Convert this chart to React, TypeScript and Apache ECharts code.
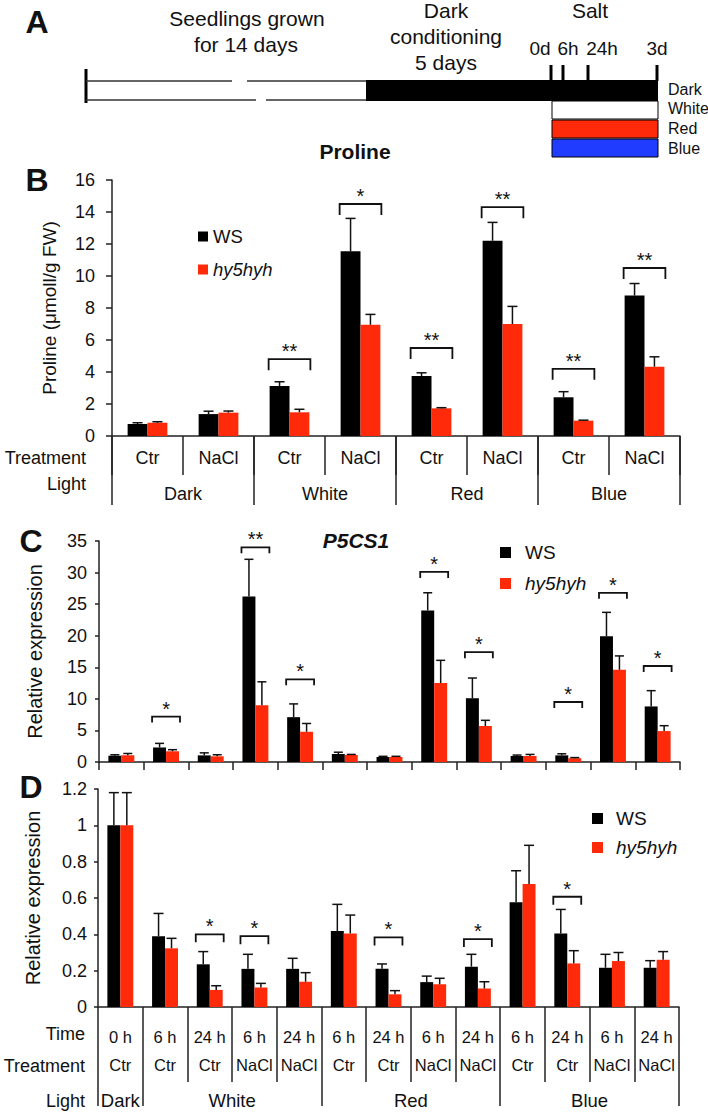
import React, { useEffect, useRef } from 'react';
import * as echarts from 'echarts';

const FONT = "'Liberation Sans', Arial, Helvetica, sans-serif";
const INK = '#111111';
const AXIS = '#222222';
const WS_COLOR = '#000000';
const HY_COLOR = '#ff2a0a';
const BLUE = '#1f3cff';

// ---------- Panel B : Proline ----------
const bTreatments = ['Ctr', 'NaCl', 'Ctr', 'NaCl', 'Ctr', 'NaCl', 'Ctr', 'NaCl'];
const bLights = ['Dark', 'White', 'Red', 'Blue'];
const bWS = [0.75, 1.37, 3.12, 11.55, 3.75, 12.2, 2.42, 8.78];
const bWSErr = [0.08, 0.18, 0.27, 2.05, 0.2, 1.15, 0.35, 0.75];
const bHy = [0.83, 1.46, 1.48, 6.95, 1.73, 7.0, 0.96, 4.33];
const bHyErr = [0.06, 0.1, 0.19, 0.65, 0.04, 1.1, 0.03, 0.62];
// [category index, bracket height, number of stars]
const bSig = [[2, 4.8, 2], [3, 14.5, 1], [4, 5.5, 2], [5, 14.3, 2], [6, 4.2, 2], [7, 10.5, 2]];

// ---------- Panels C & D : 13 conditions ----------
const timePoints = ['0 h', '6 h', '24 h', '6 h', '24 h', '6 h', '24 h', '6 h', '24 h', '6 h', '24 h', '6 h', '24 h'];
const treatments = ['Ctr', 'Ctr', 'Ctr', 'NaCl', 'NaCl', 'Ctr', 'Ctr', 'NaCl', 'NaCl', 'Ctr', 'Ctr', 'NaCl', 'NaCl'];
const lightGroups = ['Dark', 'White', 'Red', 'Blue'];
const lightGroupSizes = [1, 4, 4, 4];

// Panel C : P5CS1
const cWS = [1.0, 2.3, 1.05, 26.2, 7.1, 1.25, 0.8, 24.0, 10.1, 0.95, 1.05, 19.9, 8.8];
const cWSErr = [0.15, 0.65, 0.4, 5.9, 2.1, 0.3, 0.1, 2.8, 3.2, 0.15, 0.25, 3.8, 2.5];
const cHy = [1.05, 1.7, 0.9, 9.0, 4.8, 1.1, 0.8, 12.5, 5.7, 0.95, 0.6, 14.6, 4.9];
const cHyErr = [0.3, 0.25, 0.25, 3.7, 1.3, 0.1, 0.1, 3.6, 0.9, 0.25, 0.1, 2.2, 0.85];
const cSig = [[1, 7.2, 1], [3, 34.0, 2], [4, 13.1, 1], [7, 30.1, 1], [8, 17.4, 1], [10, 9.5, 1], [11, 26.8, 1], [12, 15.2, 1]];

// Panel D
const dWS = [1.0, 0.39, 0.235, 0.21, 0.21, 0.418, 0.21, 0.137, 0.222, 0.576, 0.405, 0.216, 0.216];
const dWSErr = [0.18, 0.125, 0.07, 0.08, 0.058, 0.147, 0.027, 0.033, 0.068, 0.174, 0.132, 0.074, 0.039];
const dHy = [1.0, 0.323, 0.094, 0.108, 0.139, 0.405, 0.07, 0.125, 0.102, 0.677, 0.24, 0.253, 0.26];
const dHyErr = [0.18, 0.055, 0.023, 0.022, 0.05, 0.101, 0.02, 0.033, 0.037, 0.213, 0.07, 0.047, 0.045];
const dSig = [[2, 0.4, 1], [3, 0.39, 1], [6, 0.383, 1], [8, 0.374, 1], [10, 0.607, 1]];

// light-group boundaries and centres on a 0..13 scale
const lightBounds: number[] = lightGroupSizes.reduce((acc: number[], s) => acc.concat(acc[acc.length - 1] + s), [0]);
const lightMids: number[] = lightGroupSizes.map((s, i) => lightBounds[i] + s / 2);

const B_GAP = 0.44;
const CD_GAP = 0.42;

function bars(xAxisIndex: number, yAxisIndex: number, ws: number[], hy: number[], gap: number) {
  const common = {
    type: 'bar', xAxisIndex, yAxisIndex, barGap: '0%', barCategoryGap: `${gap * 100}%`, z: 2,
    emphasis: { disabled: true },
  };
  return [
    { ...common, name: 'WS', data: ws, itemStyle: { color: WS_COLOR } },
    { ...common, name: 'hy5hyh', data: hy, itemStyle: { color: HY_COLOR } },
  ];
}

function errorBars(xAxisIndex: number, yAxisIndex: number, vals: number[], errs: number[], side: number, gap: number, cap: number) {
  return {
    type: 'custom', name: side < 0 ? 'WS error' : 'hy5hyh error', xAxisIndex, yAxisIndex, z: 5,
    data: vals.map((v, i) => [i, v, errs[i]]),
    encode: { x: 0, y: 1 },
    renderItem: (params: any, api: any) => {
      const i = api.value(0), v = api.value(1), e = api.value(2);
      const p0 = api.coord([i, v]);
      const p1 = api.coord([i, v + e]);
      const band = api.size([1, 0])[0];
      const bw = (band * (1 - gap)) / 2;
      const x = p0[0] + (side * bw) / 2;
      const st = { stroke: INK, lineWidth: 1.5 };
      return {
        type: 'group',
        children: [
          { type: 'line', shape: { x1: x, y1: p0[1], x2: x, y2: p1[1] }, style: st },
          { type: 'line', shape: { x1: x - cap / 2, y1: p1[1], x2: x + cap / 2, y2: p1[1] }, style: st },
        ],
      };
    },
  };
}

function brackets(xAxisIndex: number, yAxisIndex: number, sig: number[][], gap: number, leg: number) {
  return {
    type: 'custom', name: 'significance', xAxisIndex, yAxisIndex, z: 6,
    data: sig,
    encode: { x: 0, y: 1 },
    renderItem: (params: any, api: any) => {
      const i = api.value(0), h = api.value(1), n = api.value(2);
      const p = api.coord([i, h]);
      const band = api.size([1, 0])[0];
      const half = (band * (1 - gap)) / 2 + 1;
      return {
        type: 'group',
        children: [
          {
            type: 'polyline',
            shape: { points: [[p[0] - half, p[1] + leg], [p[0] - half, p[1]], [p[0] + half, p[1]], [p[0] + half, p[1] + leg]] },
            style: { stroke: INK, lineWidth: 1.8, fill: 'none' },
          },
          {
            type: 'text',
            style: {
              text: '*'.repeat(n), x: p[0], y: p[1] - 8,
              textAlign: 'center', textVerticalAlign: 'middle', align: 'center', verticalAlign: 'middle',
              fontSize: 20, fontFamily: FONT, fill: INK,
            },
          },
        ],
      };
    },
  };
}

function legendAt(left: number, top: number, gap: number, pad: number, size: number, font: number) {
  return {
    data: ['WS', 'hy5hyh'], left, top, orient: 'vertical', icon: 'rect',
    itemWidth: size, itemHeight: size, itemGap: gap, selectedMode: false,
    formatter: (n: string) => (n === 'hy5hyh' ? '{i|hy5hyh}' : '{n|WS}'),
    textStyle: {
      color: INK, fontSize: font, fontFamily: FONT, padding: [0, 0, 0, pad],
      rich: {
        i: { fontStyle: 'italic', fontSize: font, fontFamily: FONT, color: INK },
        n: { fontSize: font, fontFamily: FONT, color: INK },
      },
    },
  };
}

const axisLine = { show: true, lineStyle: { color: AXIS, width: 1.5 } };
const tickStyle = { color: AXIS, width: 1.5 };

function txt(text: string, x: number, y: number, size: number, opts: any = {}) {
  return {
    type: 'text', silent: true,
    style: {
      text, x, y, fontSize: size, fontFamily: FONT, fill: INK,
      textAlign: opts.align || 'center', align: opts.align || 'center',
      textVerticalAlign: 'middle', verticalAlign: 'middle',
      fontWeight: opts.weight || 'normal', fontStyle: opts.style || 'normal',
    },
  };
}

function schematic() {
  const thin = { stroke: '#333', lineWidth: 1.4 };
  const els: any[] = [
    { type: 'line', shape: { x1: 86, y1: 69, x2: 86, y2: 103 }, style: { stroke: '#000', lineWidth: 3 } },
    { type: 'line', shape: { x1: 86, y1: 81, x2: 232, y2: 81 }, style: thin },
    { type: 'line', shape: { x1: 247, y1: 81, x2: 367, y2: 81 }, style: thin },
    { type: 'line', shape: { x1: 86, y1: 100, x2: 256, y2: 100 }, style: thin },
    { type: 'line', shape: { x1: 266, y1: 100, x2: 367, y2: 100 }, style: thin },
    { type: 'rect', shape: { x: 366, y: 80, width: 292, height: 21 }, style: { fill: '#000' } },
    { type: 'rect', shape: { x: 552, y: 101, width: 106, height: 18 }, style: { fill: '#fff', stroke: '#000', lineWidth: 1 } },
    { type: 'rect', shape: { x: 552, y: 120, width: 106, height: 18 }, style: { fill: HY_COLOR, stroke: '#000', lineWidth: 1 } },
    { type: 'rect', shape: { x: 552, y: 139, width: 106, height: 18 }, style: { fill: BLUE, stroke: '#000', lineWidth: 1 } },
  ];
  [551, 563, 588, 657].forEach((x) => {
    els.push({ type: 'rect', shape: { x: x - 1.5, y: 65, width: 3, height: 16 }, style: { fill: '#000' } });
  });
  els.push(
    txt('Seedlings grown', 247, 18, 21),
    txt('for 14 days', 246, 44, 21),
    txt('Dark', 446, 10, 21),
    txt('conditioning', 446, 36, 21),
    txt('5 days', 446, 62, 21),
    txt('Salt', 590, 10, 21),
    txt('0d', 540, 48, 19),
    txt('6h', 568, 48, 19),
    txt('24h', 602, 48, 19),
    txt('3d', 657, 48, 19),
    txt('Dark', 668, 89, 16, { align: 'left' }),
    txt('White', 668, 108, 16, { align: 'left' }),
    txt('Red', 668, 128, 16, { align: 'left' }),
    txt('Blue', 668, 148, 16, { align: 'left' }),
  );
  return els;
}

function buildOption() {
  const graphics = [
    ...schematic(),
    txt('A', 37, 22, 32, { weight: 'bold' }),
    txt('B', 37, 180, 32, { weight: 'bold' }),
    txt('C', 31, 541, 32, { weight: 'bold' }),
    txt('D', 31, 787, 32, { weight: 'bold' }),
    txt('Proline', 355, 151, 21, { weight: 'bold' }),
    txt('P5CS1', 356, 540, 21, { weight: 'bold', style: 'italic' }),
    txt('Treatment', 86, 458, 18, { align: 'right' }),
    txt('Light', 86, 484, 18, { align: 'right' }),
    txt('Time', 85, 1034, 18, { align: 'right' }),
    txt('Treatment', 85, 1066, 18, { align: 'right' }),
    txt('Light', 85, 1101, 18, { align: 'right' }),
  ];

  const labelFont = { color: INK, fontFamily: FONT };

  return {
    animation: false,
    textStyle: { fontFamily: FONT },
    grid: [
      { left: 112, top: 180, width: 568, height: 256 },
      { left: 99, top: 541, width: 581, height: 221 },
      { left: 98, top: 789, width: 581, height: 218 },
    ],
    legend: [
      legendAt(193, 222, 14, 0, 10, 18.5),
      legendAt(495, 538, 12, 9, 11, 19),
      legendAt(587, 804, 10, 8, 11, 19),
    ],
    xAxis: [
      {
        gridIndex: 0, type: 'category', data: bTreatments, axisLine,
        axisTick: { show: true, interval: 0, length: 39, lineStyle: tickStyle },
        axisLabel: { ...labelFont, interval: 0, margin: 13, fontSize: 18 },
      },
      {
        gridIndex: 0, type: 'category', data: bLights, position: 'bottom', axisLine: { show: false },
        axisTick: { show: true, interval: 0, length: 69, lineStyle: tickStyle },
        axisLabel: { ...labelFont, interval: 0, margin: 49, fontSize: 18 },
      },
      {
        gridIndex: 1, type: 'category', data: timePoints, axisLine,
        axisTick: { show: true, interval: 0, length: 8, lineStyle: tickStyle },
        axisLabel: { show: false },
      },
      {
        gridIndex: 2, type: 'category', data: timePoints, axisLine,
        axisTick: { show: true, interval: 0, length: 75, lineStyle: tickStyle },
        axisLabel: { ...labelFont, interval: 0, margin: 21, fontSize: 16.5 },
      },
      {
        gridIndex: 2, type: 'category', data: treatments, position: 'bottom', axisLine: { show: false },
        axisTick: { show: false },
        axisLabel: { ...labelFont, interval: 0, margin: 49, fontSize: 16.5 },
      },
      {
        gridIndex: 2, type: 'value', min: 0, max: lightBounds[lightBounds.length - 1], position: 'bottom', offset: 75,
        axisLine: { show: false }, splitLine: { show: false },
        axisTick: { show: true, customValues: lightBounds, length: 24, lineStyle: tickStyle },
        axisLabel: {
          ...labelFont, customValues: lightMids, margin: 9, fontSize: 18.5,
          formatter: (v: number) => {
            const k = lightMids.findIndex((m) => Math.abs(m - v) < 1e-6);
            return k >= 0 ? lightGroups[k] : '';
          },
        },
      },
    ],
    yAxis: [
      {
        gridIndex: 0, type: 'value', min: 0, max: 16, interval: 2, axisLine,
        axisTick: { show: true, length: 6, lineStyle: tickStyle }, splitLine: { show: false },
        axisLabel: { ...labelFont, fontSize: 18, margin: 17 },
        name: 'Proline (μmoll/g FW)', nameLocation: 'middle', nameGap: 53,
        nameTextStyle: { ...labelFont, fontSize: 19 },
      },
      {
        gridIndex: 1, type: 'value', min: 0, max: 35, interval: 5, axisLine,
        axisTick: { show: true, length: 4, lineStyle: tickStyle }, splitLine: { show: false },
        axisLabel: { ...labelFont, fontSize: 18, margin: 12 },
        name: 'Relative expression', nameLocation: 'middle', nameGap: 54,
        nameTextStyle: { ...labelFont, fontSize: 20 },
      },
      {
        gridIndex: 2, type: 'value', min: 0, max: 1.2, interval: 0.2, axisLine,
        axisTick: { show: true, length: 4, lineStyle: tickStyle }, splitLine: { show: false },
        axisLabel: { ...labelFont, fontSize: 18, margin: 11 },
        name: 'Relative expression', nameLocation: 'middle', nameGap: 55,
        nameTextStyle: { ...labelFont, fontSize: 20 },
      },
    ],
    series: [
      ...bars(0, 0, bWS, bHy, B_GAP),
      errorBars(0, 0, bWS, bWSErr, -1, B_GAP, 10),
      errorBars(0, 0, bHy, bHyErr, 1, B_GAP, 10),
      brackets(0, 0, bSig, B_GAP, 11),

      ...bars(2, 1, cWS, cHy, CD_GAP),
      errorBars(2, 1, cWS, cWSErr, -1, CD_GAP, 9),
      errorBars(2, 1, cHy, cHyErr, 1, CD_GAP, 9),
      brackets(2, 1, cSig, CD_GAP, 6),

      ...bars(3, 2, dWS, dHy, CD_GAP),
      errorBars(3, 2, dWS, dWSErr, -1, CD_GAP, 10),
      errorBars(3, 2, dHy, dHyErr, 1, CD_GAP, 10),
      brackets(3, 2, dSig, CD_GAP, 8),
    ],
    graphic: graphics,
  };
}

export default function App() {
  const ref = useRef<HTMLDivElement>(null);
  useEffect(() => {
    if (!ref.current) return;
    const chart = echarts.init(ref.current, undefined, { renderer: 'svg' });
    chart.setOption(buildOption() as any);
    return () => chart.dispose();
  }, []);
  return (
    <div
      ref={ref}
      style={{ position: 'absolute', left: 0, top: 0, width: 708, height: 1112, background: '#ffffff' }}
    />
  );
}
